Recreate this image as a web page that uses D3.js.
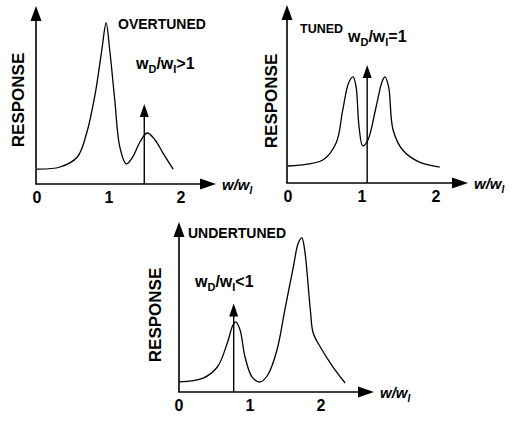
<!DOCTYPE html>
<html>
<head>
<meta charset="utf-8">
<script src="https://cdn.jsdelivr.net/npm/d3@7"></script>
<style>
  body { margin: 0; background: white; }
  svg { display: block; }
  text { font-family: "Liberation Sans", Arial, sans-serif; font-weight: bold; fill: black; }
</style>
</head>
<body>
<svg></svg>
<script>
// tick labels on the frequency axis
let xTicks = [0, 1, 2];

// response curves, x in w/wI, y in relative response
let overX = [0, 0.32, 0.56, 0.69, 0.81, 0.90, 0.96, 1.01, 1.08, 1.15, 1.24, 1.33, 1.43, 1.53, 1.64, 1.75, 1.89];
let overY = [0.088, 0.1, 0.159, 0.3, 0.535, 0.788, 0.947, 0.788, 0.494, 0.218, 0.118, 0.159, 0.247, 0.3, 0.259, 0.182, 0.088];

let tunedX = [0, 0.47, 0.65, 0.74, 0.82, 0.88, 0.92, 0.96, 1.01, 1.08, 1.19, 1.27, 1.31, 1.36, 1.42, 1.55, 1.77, 2.05];
let tunedY = [0.1, 0.135, 0.235, 0.43, 0.59, 0.624, 0.565, 0.33, 0.218, 0.253, 0.447, 0.594, 0.624, 0.565, 0.312, 0.194, 0.124, 0.094];

let underX = [0, 0.34, 0.54, 0.68, 0.76, 0.80, 0.86, 0.93, 1.03, 1.14, 1.25, 1.38, 1.49, 1.61, 1.68, 1.73, 1.77, 1.85, 1.89, 1.99, 2.17, 2.34];
let underY = [0.059, 0.082, 0.147, 0.288, 0.394, 0.412, 0.365, 0.206, 0.088, 0.059, 0.1, 0.247, 0.482, 0.735, 0.876, 0.906, 0.835, 0.482, 0.347, 0.265, 0.147, 0.053];

// driving frequency (w/wI) and arrow height
let drive = [1.49, 1.07, 0.77];
let driveTop = [0.47, 0.694, 0.52];

let titles = ["OVERTUNED", "TUNED", "UNDERTUNED"];
let ratioSigns = [">1", "=1", "<1"];

let width = 512, height = 421;

let svg = d3.select("svg").attr("width", width).attr("height", height);

// layout of each small chart
let panels = [
  { ox: 36, oy: 184, x0: 37, x2: 181, yTop: 6, xTip: 216, respY: 100, respX: 18,
    title: [118, 29, 14], ratio: [136, 69] },
  { ox: 287, oy: 183, x0: 288, x2: 436, yTop: 5, xTip: 468, respY: 101, respX: 271,
    title: [300, 33, 12.5], ratio: [348, 42] },
  { ox: 179, oy: 392, x0: 179, x2: 321, yTop: 222, xTip: 374, respY: 315, respX: 155,
    title: [188, 238, 14], ratio: [195, 287] }
];

let curves = [
  d3.zip(overX, overY),
  d3.zip(tunedX, tunedY),
  d3.zip(underX, underY)
];

panels.forEach((p, i) => {
  let g = svg.append("g");
  let x = d3.scaleLinear().domain([0, 2]).range([p.x0, p.x2]);
  let y = d3.scaleLinear().domain([0, 1]).range([p.oy, p.oy - 170]);

  // axes with arrow heads
  g.append("line").attr("x1", p.ox).attr("y1", p.oy).attr("x2", p.ox).attr("y2", p.yTop + 12)
    .attr("stroke", "black").attr("stroke-width", 1.6);
  g.append("path")
    .attr("d", `M${p.ox},${p.yTop} L${p.ox - 5.5},${p.yTop + 15} L${p.ox + 5.5},${p.yTop + 15} Z`);
  g.append("line").attr("x1", p.ox - 0.8).attr("y1", p.oy).attr("x2", p.xTip - 12).attr("y2", p.oy)
    .attr("stroke", "black").attr("stroke-width", 1.6);
  g.append("path")
    .attr("d", `M${p.xTip},${p.oy} L${p.xTip - 16},${p.oy - 5.5} L${p.xTip - 16},${p.oy + 5.5} Z`);

  // tick labels
  g.selectAll(".tick")
    .data(xTicks)
    .enter()
    .append("text")
    .attr("x", d => x(d))
    .attr("y", p.oy + 19)
    .attr("text-anchor", "middle")
    .style("font-size", "16px")
    .text(d => d);

  // axis titles
  let xl = g.append("text").attr("x", p.xTip + 6).attr("y", p.oy + 6)
    .style("font-size", "15px").style("font-style", "italic");
  xl.append("tspan").text("w/w");
  xl.append("tspan").attr("dy", 4).style("font-size", "10px").text("I");

  g.append("text")
    .attr("transform", `translate(${p.respX + 6},${p.respY}) rotate(-90)`)
    .attr("text-anchor", "middle")
    .style("font-size", "17px")
    .text("RESPONSE");

  // response curve
  let line = d3.line().x(d => x(d[0])).y(d => y(d[1])).curve(d3.curveCatmullRom.alpha(0.5));
  g.append("path")
    .datum(curves[i])
    .attr("d", line)
    .attr("fill", "none")
    .attr("stroke", "black")
    .attr("stroke-width", 1.3);

  // driving frequency arrow
  let dx = x(drive[i]), dt = y(driveTop[i]);
  g.append("line").attr("x1", dx).attr("y1", p.oy).attr("x2", dx).attr("y2", dt + 10)
    .attr("stroke", "black").attr("stroke-width", 1.4);
  g.append("path")
    .attr("d", `M${dx},${dt} L${dx - 4.5},${dt + 13} L${dx + 4.5},${dt + 13} Z`);

  // annotations
  g.append("text").attr("x", p.title[0]).attr("y", p.title[1])
    .style("font-size", p.title[2] + "px").text(titles[i]);

  let r = g.append("text").attr("x", p.ratio[0]).attr("y", p.ratio[1]).style("font-size", "16px");
  r.append("tspan").text("w");
  r.append("tspan").attr("dy", 4).style("font-size", "11px").text("D");
  r.append("tspan").attr("dy", -4).text("/w");
  r.append("tspan").attr("dy", 4).style("font-size", "11px").text("I");
  r.append("tspan").attr("dy", -4).text(ratioSigns[i]);
});
</script>
</body>
</html>
